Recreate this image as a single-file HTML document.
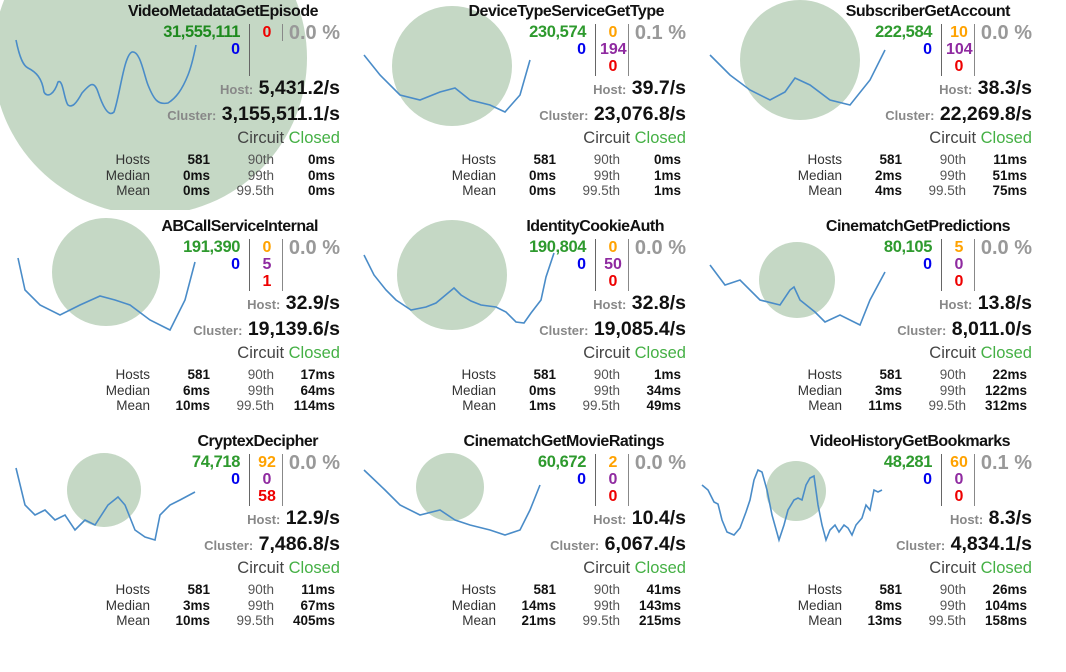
<!DOCTYPE html>
<html><head><meta charset="utf-8"><style>
body{margin:0;width:1066px;height:672px;background:#fff;overflow:hidden;font-family:"Liberation Sans",sans-serif;position:relative}
.p{position:absolute;width:345px;height:210px;overflow:hidden}
.p div{position:absolute;white-space:nowrap;line-height:1}
svg{position:absolute;left:0;top:0}
.t{right:27px;top:4px;font-weight:bold;font-size:16px;color:#111;letter-spacing:-0.5px}
.g{right:105px;top:24px;font-weight:bold;font-size:16.5px;color:#2e9a2e;letter-spacing:-0.4px}
.b{right:105px;top:42px;font-weight:bold;font-size:16px;color:#0000ee}
.m{left:254px;width:26px;text-align:center;font-weight:bold;font-size:16px}
.o{color:#ffa200}.pu{color:#8f2aa0}.r{color:#ee0000}
.l1{left:249px;top:24px;width:1px;height:52px;background:#666}
.l2{left:282px;top:24px;width:1px;height:52px;background:#888}
.pc{right:5px;top:23px;font-size:20px;font-weight:bold;color:#999}
.h{right:5px;font-weight:bold;font-size:19.5px;color:#111}
.h span{font-size:13px;color:#888}
.ci{right:5px;top:130px;font-size:16.5px;color:#444}
.ci span{color:#45b045}
.s{font-size:13.5px;color:#333;text-align:right}
.s b{color:#111}
</style></head><body>

<div class="p" style="left:0;top:0">
<svg width="345" height="210"><circle cx="150" cy="58" r="157" fill="#c5d8c5"/><path fill="none" stroke="#4a8cc8" stroke-width="1.6" d="M16,40 C20,60 24,66 28,68 C36,72 42,78 44,92 C47,98 54,95 58,82 C63,78 64,100 68,105 C72,108 76,104 82,93 C90,84 94,80 98,92 C102,104 108,118 114,112 C120,95 124,55 132,52 C140,50 144,75 148,85 C154,100 158,105 168,103 C176,98 182,90 188,75 C192,65 194,55 196,45"/></svg>
<div class="t">VideoMetadataGetEpisode</div>
<div class="g" style="color:#1e8a1e">31,555,111</div><div class="b">0</div>
<div class="l1"></div><div class="l2" style="height:17px"></div>
<div class="m r" style="top:25px">0</div>
<div class="pc">0.0 %</div>
<div class="h" style="top:79px"><span>Host:</span> 5,431.2/s</div>
<div class="h" style="top:105px"><span>Cluster:</span> 3,155,511.1/s</div>
<div class="ci">Circuit <span>Closed</span></div>
<div class="s" style="right:195px;top:152px;line-height:15.5px">Hosts<br>Median<br>Mean</div>
<div class="s" style="right:135px;top:152px;line-height:15.5px"><b>581<br>0ms<br>0ms</b></div>
<div class="s" style="right:71px;top:152px;line-height:15.5px;color:#555">90th<br>99th<br>99.5th</div>
<div class="s" style="right:10px;top:152px;line-height:15.5px"><b>0ms<br>0ms<br>0ms</b></div>
</div>

<div class="p" style="left:346px;top:0">
<svg width="345" height="210"><circle cx="106" cy="66" r="60" fill="#c5d8c5"/><polyline fill="none" stroke="#4a8cc8" stroke-width="1.6" points="18,55 34,75 54,95 74,100 94,92 109,88 124,100 144,105 159,112 174,95 184,60"/></svg>
<div class="t">DeviceTypeServiceGetType</div>
<div class="g">230,574</div><div class="b">0</div>
<div class="l1"></div><div class="l2"></div>
<div class="m o" style="top:25px">0</div><div class="m pu" style="top:42px">194</div><div class="m r" style="top:59px">0</div>
<div class="pc">0.1 %</div>
<div class="h" style="top:79px"><span>Host:</span> 39.7/s</div>
<div class="h" style="top:105px"><span>Cluster:</span> 23,076.8/s</div>
<div class="ci">Circuit <span>Closed</span></div>
<div class="s" style="right:195px;top:152px;line-height:15.5px">Hosts<br>Median<br>Mean</div>
<div class="s" style="right:135px;top:152px;line-height:15.5px"><b>581<br>0ms<br>0ms</b></div>
<div class="s" style="right:71px;top:152px;line-height:15.5px;color:#555">90th<br>99th<br>99.5th</div>
<div class="s" style="right:10px;top:152px;line-height:15.5px"><b>0ms<br>1ms<br>1ms</b></div>
</div>

<div class="p" style="left:692px;top:0">
<svg width="345" height="210"><circle cx="108" cy="60" r="60" fill="#c5d8c5"/><polyline fill="none" stroke="#4a8cc8" stroke-width="1.6" points="18,55 38,75 58,90 78,100 93,92 103,78 118,85 138,100 158,105 178,80 193,50"/></svg>
<div class="t">SubscriberGetAccount</div>
<div class="g">222,584</div><div class="b">0</div>
<div class="l1"></div><div class="l2"></div>
<div class="m o" style="top:25px">10</div><div class="m pu" style="top:42px">104</div><div class="m r" style="top:59px">0</div>
<div class="pc">0.0 %</div>
<div class="h" style="top:79px"><span>Host:</span> 38.3/s</div>
<div class="h" style="top:105px"><span>Cluster:</span> 22,269.8/s</div>
<div class="ci">Circuit <span>Closed</span></div>
<div class="s" style="right:195px;top:152px;line-height:15.5px">Hosts<br>Median<br>Mean</div>
<div class="s" style="right:135px;top:152px;line-height:15.5px"><b>581<br>2ms<br>4ms</b></div>
<div class="s" style="right:71px;top:152px;line-height:15.5px;color:#555">90th<br>99th<br>99.5th</div>
<div class="s" style="right:10px;top:152px;line-height:15.5px"><b>11ms<br>51ms<br>75ms</b></div>
</div>

<div class="p" style="left:0;top:215px">
<svg width="345" height="210"><circle cx="106" cy="57" r="54" fill="#c5d8c5"/><polyline fill="none" stroke="#4a8cc8" stroke-width="1.6" points="18,43 25,75 40,90 60,100 80,90 100,81 115,85 130,90 150,105 170,115 185,85 195,47"/></svg>
<div class="t">ABCallServiceInternal</div>
<div class="g">191,390</div><div class="b">0</div>
<div class="l1"></div><div class="l2"></div>
<div class="m o" style="top:25px">0</div><div class="m pu" style="top:42px">5</div><div class="m r" style="top:59px">1</div>
<div class="pc">0.0 %</div>
<div class="h" style="top:79px"><span>Host:</span> 32.9/s</div>
<div class="h" style="top:105px"><span>Cluster:</span> 19,139.6/s</div>
<div class="ci">Circuit <span>Closed</span></div>
<div class="s" style="right:195px;top:152px;line-height:15.5px">Hosts<br>Median<br>Mean</div>
<div class="s" style="right:135px;top:152px;line-height:15.5px"><b>581<br>6ms<br>10ms</b></div>
<div class="s" style="right:71px;top:152px;line-height:15.5px;color:#555">90th<br>99th<br>99.5th</div>
<div class="s" style="right:10px;top:152px;line-height:15.5px"><b>17ms<br>64ms<br>114ms</b></div>
</div>

<div class="p" style="left:346px;top:215px">
<svg width="345" height="210"><circle cx="106" cy="60" r="55" fill="#c5d8c5"/><polyline fill="none" stroke="#4a8cc8" stroke-width="1.6" points="18,40 28,60 40,75 50,85 65,95 80,92 90,88 102,78 108,73 115,80 125,86 135,90 150,92 160,97 170,107 178,108 185,98 195,85 200,62 208,38"/></svg>
<div class="t">IdentityCookieAuth</div>
<div class="g">190,804</div><div class="b">0</div>
<div class="l1"></div><div class="l2"></div>
<div class="m o" style="top:25px">0</div><div class="m pu" style="top:42px">50</div><div class="m r" style="top:59px">0</div>
<div class="pc">0.0 %</div>
<div class="h" style="top:79px"><span>Host:</span> 32.8/s</div>
<div class="h" style="top:105px"><span>Cluster:</span> 19,085.4/s</div>
<div class="ci">Circuit <span>Closed</span></div>
<div class="s" style="right:195px;top:152px;line-height:15.5px">Hosts<br>Median<br>Mean</div>
<div class="s" style="right:135px;top:152px;line-height:15.5px"><b>581<br>0ms<br>1ms</b></div>
<div class="s" style="right:71px;top:152px;line-height:15.5px;color:#555">90th<br>99th<br>99.5th</div>
<div class="s" style="right:10px;top:152px;line-height:15.5px"><b>1ms<br>34ms<br>49ms</b></div>
</div>

<div class="p" style="left:692px;top:215px">
<svg width="345" height="210"><circle cx="105" cy="65" r="38" fill="#c5d8c5"/><polyline fill="none" stroke="#4a8cc8" stroke-width="1.6" points="18,50 33,70 48,65 68,85 88,90 98,75 102,72 108,85 123,97 133,107 148,100 168,110 178,85 193,57"/></svg>
<div class="t">CinematchGetPredictions</div>
<div class="g">80,105</div><div class="b">0</div>
<div class="l1"></div><div class="l2"></div>
<div class="m o" style="top:25px">5</div><div class="m pu" style="top:42px">0</div><div class="m r" style="top:59px">0</div>
<div class="pc">0.0 %</div>
<div class="h" style="top:79px"><span>Host:</span> 13.8/s</div>
<div class="h" style="top:105px"><span>Cluster:</span> 8,011.0/s</div>
<div class="ci">Circuit <span>Closed</span></div>
<div class="s" style="right:195px;top:152px;line-height:15.5px">Hosts<br>Median<br>Mean</div>
<div class="s" style="right:135px;top:152px;line-height:15.5px"><b>581<br>3ms<br>11ms</b></div>
<div class="s" style="right:71px;top:152px;line-height:15.5px;color:#555">90th<br>99th<br>99.5th</div>
<div class="s" style="right:10px;top:152px;line-height:15.5px"><b>22ms<br>122ms<br>312ms</b></div>
</div>

<div class="p" style="left:0;top:430px">
<svg width="345" height="210"><circle cx="104" cy="60" r="37" fill="#c5d8c5"/><polyline fill="none" stroke="#4a8cc8" stroke-width="1.6" points="16,38 25,75 35,85 45,80 55,90 65,85 75,100 85,90 95,95 108,75 118,67 125,75 135,100 145,107 155,110 160,85 170,75 180,70 195,62"/></svg>
<div class="t">CryptexDecipher</div>
<div class="g">74,718</div><div class="b">0</div>
<div class="l1"></div><div class="l2"></div>
<div class="m o" style="top:25px">92</div><div class="m pu" style="top:42px">0</div><div class="m r" style="top:59px">58</div>
<div class="pc">0.0 %</div>
<div class="h" style="top:79px"><span>Host:</span> 12.9/s</div>
<div class="h" style="top:105px"><span>Cluster:</span> 7,486.8/s</div>
<div class="ci">Circuit <span>Closed</span></div>
<div class="s" style="right:195px;top:152px;line-height:15.5px">Hosts<br>Median<br>Mean</div>
<div class="s" style="right:135px;top:152px;line-height:15.5px"><b>581<br>3ms<br>10ms</b></div>
<div class="s" style="right:71px;top:152px;line-height:15.5px;color:#555">90th<br>99th<br>99.5th</div>
<div class="s" style="right:10px;top:152px;line-height:15.5px"><b>11ms<br>67ms<br>405ms</b></div>
</div>

<div class="p" style="left:346px;top:430px">
<svg width="345" height="210"><circle cx="104" cy="57" r="34" fill="#c5d8c5"/><polyline fill="none" stroke="#4a8cc8" stroke-width="1.6" points="18,40 39,60 54,75 74,85 94,80 109,90 124,95 144,100 159,105 174,100 184,80 194,55"/></svg>
<div class="t">CinematchGetMovieRatings</div>
<div class="g">60,672</div><div class="b">0</div>
<div class="l1"></div><div class="l2"></div>
<div class="m o" style="top:25px">2</div><div class="m pu" style="top:42px">0</div><div class="m r" style="top:59px">0</div>
<div class="pc">0.0 %</div>
<div class="h" style="top:79px"><span>Host:</span> 10.4/s</div>
<div class="h" style="top:105px"><span>Cluster:</span> 6,067.4/s</div>
<div class="ci">Circuit <span>Closed</span></div>
<div class="s" style="right:195px;top:152px;line-height:15.5px">Hosts<br>Median<br>Mean</div>
<div class="s" style="right:135px;top:152px;line-height:15.5px"><b>581<br>14ms<br>21ms</b></div>
<div class="s" style="right:71px;top:152px;line-height:15.5px;color:#555">90th<br>99th<br>99.5th</div>
<div class="s" style="right:10px;top:152px;line-height:15.5px"><b>41ms<br>143ms<br>215ms</b></div>
</div>

<div class="p" style="left:692px;top:430px">
<svg width="345" height="210"><circle cx="104" cy="61" r="30" fill="#c5d8c5"/><polyline fill="none" stroke="#4a8cc8" stroke-width="1.6" points="10,55 16,60 22,72 26,74 30,90 35,102 42,105 48,98 54,82 58,70 62,50 66,40 70,42 75,60 80,85 87,110 92,95 96,80 102,70 106,68 110,70 114,55 118,48 122,46 126,75 130,95 134,110 138,100 143,95 147,102 152,95 156,98 160,105 164,95 170,88 174,75 178,80 182,60 186,62 190,60"/></svg>
<div class="t">VideoHistoryGetBookmarks</div>
<div class="g">48,281</div><div class="b">0</div>
<div class="l1"></div><div class="l2"></div>
<div class="m o" style="top:25px">60</div><div class="m pu" style="top:42px">0</div><div class="m r" style="top:59px">0</div>
<div class="pc">0.1 %</div>
<div class="h" style="top:79px"><span>Host:</span> 8.3/s</div>
<div class="h" style="top:105px"><span>Cluster:</span> 4,834.1/s</div>
<div class="ci">Circuit <span>Closed</span></div>
<div class="s" style="right:195px;top:152px;line-height:15.5px">Hosts<br>Median<br>Mean</div>
<div class="s" style="right:135px;top:152px;line-height:15.5px"><b>581<br>8ms<br>13ms</b></div>
<div class="s" style="right:71px;top:152px;line-height:15.5px;color:#555">90th<br>99th<br>99.5th</div>
<div class="s" style="right:10px;top:152px;line-height:15.5px"><b>26ms<br>104ms<br>158ms</b></div>
</div>

</body></html>
